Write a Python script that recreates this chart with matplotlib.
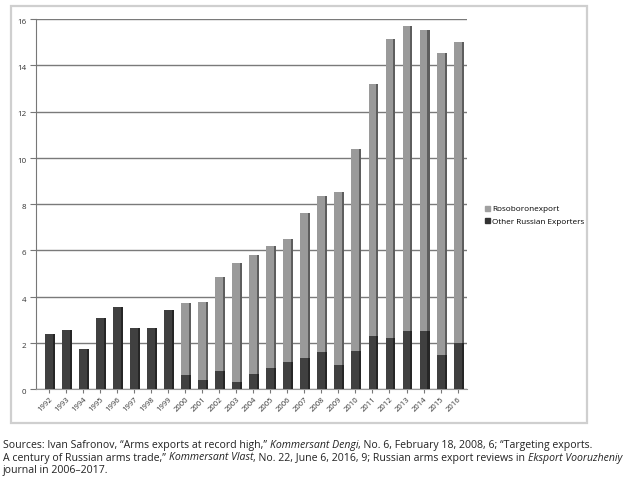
import numpy as np
import matplotlib
matplotlib.use("Agg")
from matplotlib import pyplot as plt
from matplotlib.patches import Rectangle

# data (billion USD)
years = [str(y) for y in range(1992, 2017)]
total = [2.37, 2.54, 1.75, 3.08, 3.55, 2.64, 2.65, 3.43, 3.72, 3.75,
         4.85, 5.44, 5.80, 6.17, 6.50, 7.59, 8.36, 8.53, 10.38, 13.21,
         15.15, 15.70, 15.53, 14.53, 15.02]
other = [2.37, 2.54, 1.75, 3.08, 3.55, 2.64, 2.65, 3.43, 0.59, 0.40,
         0.80, 0.31, 0.66, 0.89, 1.15, 1.36, 1.60, 1.03, 1.64, 2.30,
         2.21, 2.49, 2.49, 1.49, 1.99]
roso = [t - o for t, o in zip(total, other)]
yticks = [0, 2, 4, 6, 8, 10, 12, 14, 16]

W, H = 636, 482
fig = plt.figure(figsize=(W / 100, H / 100), dpi=100)
plt.rcParams['font.family'] = ['Open Sans', 'DejaVu Sans']

# outer frame around the chart
fig.patches.append(Rectangle((11 / W, 1 - 423 / H), 576 / W, 417 / H,
                             transform=fig.transFigure, fill=False,
                             edgecolor="#cfcfcf", lw=1.6))

ax = fig.add_axes([36 / W, 1 - 389 / H, (467 - 36) / W, (389 - 19) / H])
x = np.arange(len(years))
w = 0.46
c_dark, c_dark_side = "#404040", "#262626"
c_light, c_light_side = "#9a9a9a", "#5e5e5e"

# front faces
ax.bar(x, other, width=w, color=c_dark, zorder=3)
ax.bar(x, roso, width=w, bottom=other, color=c_light, zorder=3)
# side faces (fake 3d)
ax.bar(x + w / 2 + 0.06, other, width=0.12, color=c_dark_side, zorder=3)
ax.bar(x + w / 2 + 0.06, roso, width=0.12, bottom=other, color=c_light_side, zorder=3)

ax.set_ylim(0, 16)
ax.set_xlim(-0.75, 24.55)
ax.set_yticks(yticks)
ax.set_yticklabels([str(v) for v in yticks], fontsize=5.8, color="#333333",
                   va="top")
ax.set_xticks(x)
ax.set_xticklabels(years, rotation=45, ha="right", rotation_mode="anchor",
                   fontsize=5.5, color="#333333")
ax.tick_params(axis="y", length=4, color="#777777", pad=3)
ax.tick_params(axis="x", length=3, color="#777777", pad=2)
ax.yaxis.grid(True, color="#7a7a7a", lw=1.0, zorder=1)
for s in ["top", "right"]:
    ax.spines[s].set_visible(False)
ax.spines["left"].set_color("#777777")
ax.spines["bottom"].set_color("#999999")

# legend
h1 = Rectangle((0, 0), 1, 1, color="#a0a0a0")
h2 = Rectangle((0, 0), 1, 1, color="#333333")
fig.legend([h1, h2], ["Rosoboronexport", "Other Russian Exporters"],
           loc="upper left", bbox_to_anchor=(481 / W, 1 - 202 / H),
           frameon=False, fontsize=5.9, handlelength=0.55, handleheight=0.55,
           handletextpad=0.3, labelspacing=0.6, borderpad=0)

# sources text with italic pieces
lines = [
    [("Sources: Ivan Safronov, \u201cArms exports at record high,\u201d ", "normal"),
     ("Kommersant Dengi", "italic"),
     (", No. 6, February 18, 2008, 6; \u201cTargeting exports.", "normal")],
    [("A century of Russian arms trade,\u201d ", "normal"),
     ("Kommersant Vlast", "italic"),
     (", No. 22, June 6, 2016, 9; Russian arms export reviews in ", "normal"),
     ("Eksport Vooruzheniy", "italic")],
    [("journal in 2006\u20132017.", "normal")],
]
fig.canvas.draw()
r = fig.canvas.get_renderer()
y0 = 448
for line in lines:
    xpos = 3
    for txt, st in line:
        t = fig.text(xpos / W, 1 - y0 / H, txt, fontsize=7.6, style=st,
                     color="#222222", va="baseline", ha="left")
        xpos += t.get_window_extent(renderer=r).width
    y0 += 12.5

fig.savefig("out.png", dpi=100)
